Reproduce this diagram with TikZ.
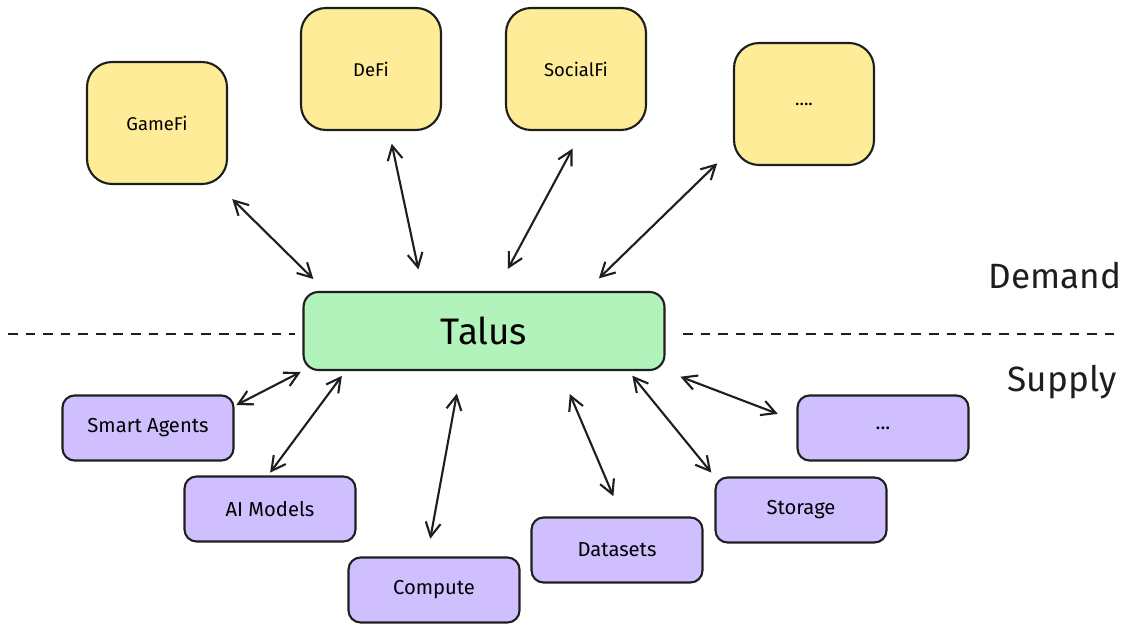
\documentclass[tikz,border=0pt]{standalone}
\usepackage{fontspec}
\setmainfont{Fira Sans}
\usepackage{tikz}
\usetikzlibrary{arrows.meta}

\definecolor{demandfill}{HTML}{FFEC99}
\definecolor{talusfill}{HTML}{B2F2BB}
\definecolor{supplyfill}{HTML}{D0BFFF}
\definecolor{ink}{HTML}{1E1E1E}

\begin{document}
\begin{tikzpicture}[x=0.02cm,y=-0.02cm,
  demand/.style={draw=ink,line width=1.2pt,fill=demandfill,rounded corners=0.5cm,
    minimum width=2.8cm,minimum height=2.44cm,inner sep=0pt,font=\fontsize{10.5}{12}\selectfont},
  supply/.style={draw=ink,line width=1.2pt,fill=supplyfill,rounded corners=0.24cm,
    minimum width=3.42cm,minimum height=1.3cm,inner sep=0pt,font=\fontsize{11.5}{13}\selectfont},
  hub/.style={draw=ink,line width=1.2pt,fill=talusfill,rounded corners=0.3cm,
    minimum width=7.22cm,minimum height=1.56cm,inner sep=0pt,font=\fontsize{21}{25}\selectfont},
  side/.style={font=\fontsize{20}{24}\selectfont,text=ink},
  divider/.style={draw=ink,line width=1.1pt,dash pattern=on 5.5pt off 4.5pt},
  link/.style={{Straight Barb[length=0.28cm,width=0.3cm]}-{Straight Barb[length=0.28cm,width=0.3cm]},
    draw=ink,line width=1.2pt},
  gaps/.style 2 args={shorten <=#1,shorten >=#2}]
\useasboundingbox (0,0) rectangle (1129,628);

\node[demand] (gamefi) at (157,123) {GameFi};
\node[demand] (defi) at (371,69) {DeFi};
\node[demand] (socialfi) at (576,69) {SocialFi};
\node[demand] (moredemand) at (804,104) {....};

\node[hub] (talus) at (484,331) {Talus};

\node[supply] (agents) at (148,428) {Smart Agents};
\node[supply] (models) at (270,509) {AI Models};
\node[supply] (compute) at (434,590) {Compute};
\node[supply] (datasets) at (617,550) {Datasets};
\node[supply] (storage) at (801,510) {Storage};
\node[supply] (moresupply) at (883,428) {...};

\node[side] (demandlabel) at (1055,276) {Demand};
\node[side] (supplylabel) at (1062,382) {Supply};

\coordinate (lineleft) at (8,334);
\coordinate (linemidleft) at (295,334);
\coordinate (linemidright) at (683,334);
\coordinate (lineright) at (1120,334);
\draw[divider] (lineleft) -- (linemidleft);
\draw[divider] (linemidright) -- (lineright);

\draw[link,gaps={0.4cm}{0.34cm}] ([xshift=1.22cm]gamefi.south) -- ([xshift=0.46cm]talus.north west);
\draw[link,gaps={0.26cm}{0.44cm}] ([xshift=0.36cm]defi.south) -- ([xshift=-1.22cm]talus.north);
\draw[link,gaps={0.4cm}{0.5cm}] ([xshift=0.12cm]socialfi.south) -- ([xshift=0.24cm]talus.north);
\draw[link,gaps={0.44cm}{0.36cm}] ([yshift=0.36cm]moredemand.south west) -- ([xshift=2.04cm]talus.north);

\draw[link,gaps={0.04cm}{0.04cm}] ([yshift=0.44cm]agents.east) -- (talus.south west);
\draw[link,gaps={0.07cm}{0.12cm}] ([xshift=-0.04cm]models.north) -- ([xshift=0.86cm]talus.south west);
\draw[link,gaps={0.46cm}{0.36cm}] ([xshift=-0.46cm]talus.south) -- ([xshift=-0.14cm]compute.north);
\draw[link,gaps={0.5cm}{0.44cm}] ([xshift=1.52cm]talus.south) -- ([xshift=0.1cm]datasets.north);
\draw[link,gaps={0.12cm}{0.1cm}] ([xshift=-0.74cm]talus.south east) -- (storage.north west);
\draw[link,gaps={0.32cm}{0.4cm}] (talus.south east) -- ([yshift=0.14cm]moresupply.west);

\end{tikzpicture}
\end{document}
